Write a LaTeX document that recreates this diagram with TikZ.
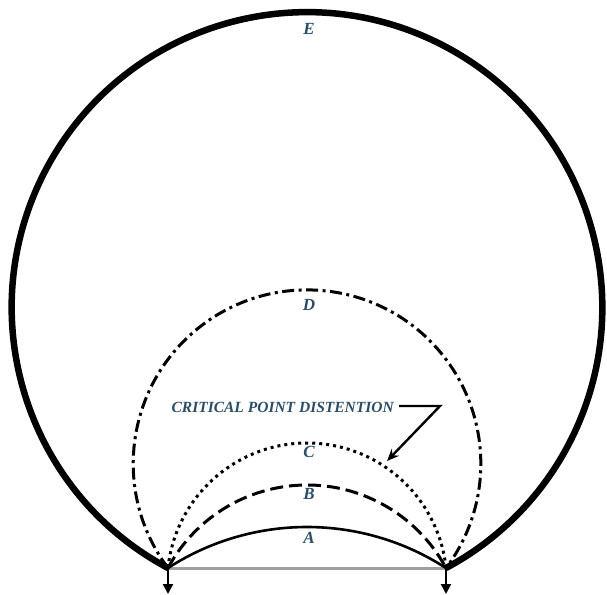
\documentclass[tikz,border=0pt]{standalone}
\usepackage{fontspec}
\setmainfont{Liberation Serif}
\usetikzlibrary{arrows.meta}
\definecolor{lbl}{HTML}{2B4D66}
\tikzset{
  lab/.style={font=\fontsize{17}{17}\selectfont\bfseries\itshape, text=lbl, inner sep=0pt},
  curveE/.style={line width=6.5pt},
  curveD/.style={line width=3pt, dash pattern=on 12pt off 4.5pt on 3pt off 4.5pt},
  curveC/.style={line width=3pt, dash pattern=on 3pt off 4pt},
  curveB/.style={line width=3pt, dash pattern=on 13pt off 6pt},
  curveA/.style={line width=2.6pt},
  downarrow/.style={line width=2.2pt, -{Triangle[length=10pt,width=10pt]}},
}
\begin{document}
\begin{tikzpicture}[x=1pt,y=1pt]
\useasboundingbox (0,0) rectangle (607,-594);
\coordinate (L) at (168,-568);
\coordinate (R) at (446,-568);
\coordinate (Ld) at (168,-594);
\coordinate (Rd) at (446,-594);
% base line
\draw[gray!75, line width=3pt] (L) -- (R);
% curves
\draw[curveE] (L) arc[start angle=241.92, end angle=-61.92, radius=295.3];
\draw[curveD] (L) arc[start angle=216.88, end angle=-36.88, radius=173.8];
\draw[curveC] (L) arc[start angle=173.92, end angle=6.08, radius=139.8];
\draw[curveB] (L) arc[start angle=151.68, end angle=28.32, radius=157.9];
\draw[curveA] (L) arc[start angle=122.88, end angle=57.12, radius=256];
% arrows down
\draw[downarrow] (L) -- (Ld);
\draw[downarrow] (R) -- (Rd);
% labels
\node[lab] (E) at (309,-29) {E};
\node[lab] (D) at (309,-305) {D};
\node[lab] (C) at (309,-452) {C};
\node[lab] (B) at (309,-494) {B};
\node[lab] (A) at (309,-538) {A};
\node[lab, font=\fontsize{15.5}{15.5}\selectfont\bfseries\itshape, anchor=east] (crit) at (394,-407) {CRITICAL POINT DISTENTION};
\coordinate (k1) at (440,-406);
\coordinate (tip) at (387,-461);
\draw[line width=2.4pt, -{Stealth[length=12pt,width=10pt]}] ([xshift=5pt]crit.east |- k1) -- (k1) -- (tip);
\end{tikzpicture}
\end{document}
